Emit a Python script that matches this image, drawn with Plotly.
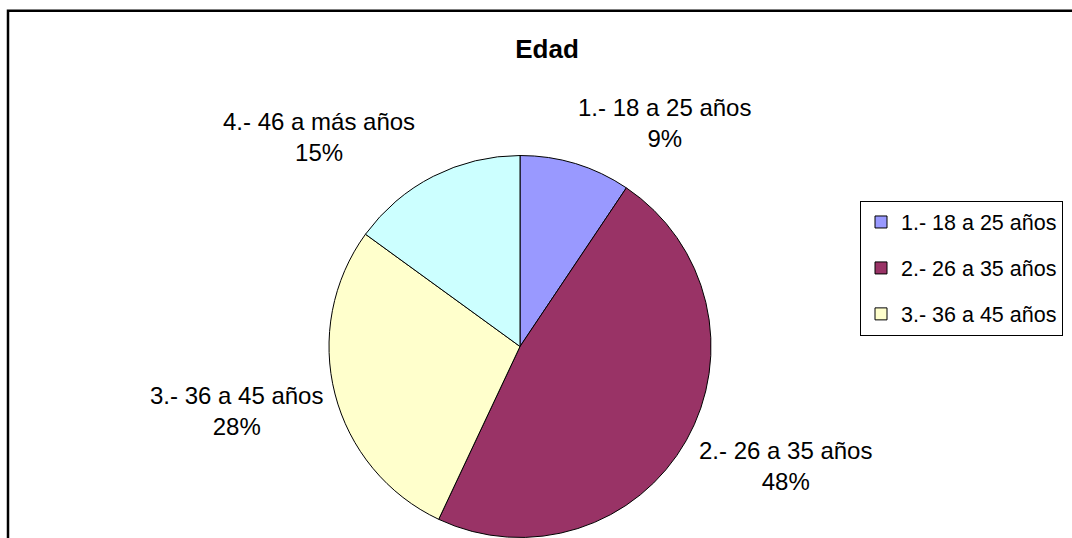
import plotly.graph_objects as go

categories = ["1.- 18 a 25 años", "2.- 26 a 35 años", "3.- 36 a 45 años", "4.- 46 a más años"]
values = [9.4, 47.6, 28.0, 15.0]
colors = ["#9999FF", "#993366", "#FFFFCC", "#CCFFFF"]
legend_items = categories[:3]
title_text = "Edad"

# label block centres (screen px), layout only
label_pos = [(664.5, 123), (785.5, 466), (236.5, 411), (319, 137)]

W, H = 1072, 538
FONT = "Liberation Sans, Arial, sans-serif"


def px_x(x):
    return x / W


def px_y(y):
    return 1 - y / H


fig = go.Figure()
fig.add_trace(go.Pie(
    labels=categories, values=values, sort=False, direction="clockwise", rotation=0,
    marker=dict(colors=colors, line=dict(color="black", width=1)),
    textinfo="none", hoverinfo="none", showlegend=False,
    domain=dict(x=[px_x(329), px_x(711)], y=[px_y(537.5), px_y(155.5)]),
))

for name, col in zip(legend_items, colors):
    fig.add_trace(go.Scatter(
        x=[None], y=[None], mode="markers", name=name, legendgroup=name,
        marker=dict(symbol="square", size=12, color=col, line=dict(color="black", width=1)),
    ))

total = sum(values)
annotations = []
for cat, v, (px, py) in zip(categories, values, label_pos):
    annotations.append(dict(
        x=px_x(px), y=px_y(py), xref="paper", yref="paper",
        text=f"{cat}<br>{round(v / total * 100)}%", showarrow=False,
        xanchor="center", yanchor="middle", align="center",
        font=dict(family=FONT, size=24, color="black"),
    ))

fig.update_layout(
    width=W, height=H,
    margin=dict(l=0, r=0, t=0, b=0),
    paper_bgcolor="white", plot_bgcolor="white",
    title=dict(text=title_text, x=px_x(547), xanchor="center", y=px_y(49), yanchor="middle",
               yref="container", xref="container",
               font=dict(family=FONT, size=26, color="black", weight="bold")),
    xaxis=dict(visible=False), yaxis=dict(visible=False),
    legend=dict(x=px_x(860), y=px_y(200.5), xanchor="left", yanchor="top",
                bordercolor="black", borderwidth=1, bgcolor="white",
                font=dict(family=FONT, size=21.5, color="black"),
                traceorder="grouped", tracegroupgap=15),
    annotations=annotations,
    shapes=[dict(type="rect", xref="paper", yref="paper",
                 x0=px_x(8), x1=1.05, y0=-0.05, y1=px_y(10.7),
                 line=dict(color="black", width=2.5), fillcolor="rgba(0,0,0,0)")],
    hovermode=False,
)

fig.write_html(
    "out.html",
    config={"displayModeBar": False},
    post_script="document.body.style.margin='0';document.body.style.overflow='hidden';",
)
